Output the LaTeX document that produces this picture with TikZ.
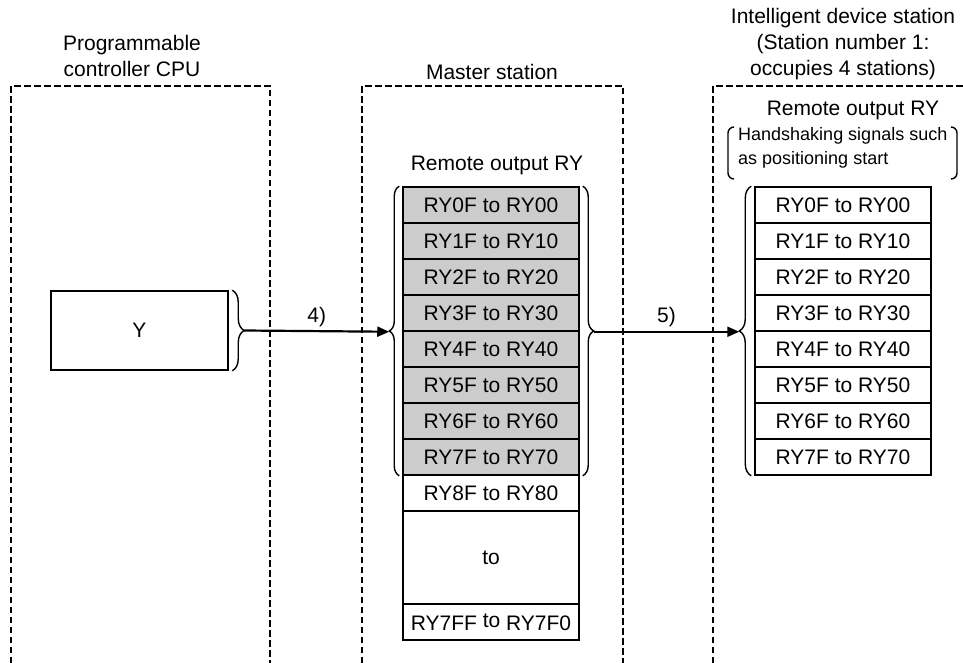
\documentclass[tikz,border=0pt]{standalone}
\usepackage{fontspec}
\setmainfont{Liberation Sans}
\usetikzlibrary{arrows.meta,decorations.pathreplacing,positioning}

\tikzset{
  station/.style={dash pattern=on 6.5pt off 3.5pt, line width=1.1pt},
  rybox/.style={draw, line width=1.5pt, minimum width=176pt, minimum height=36pt, inner sep=0pt},
  curly/.style={decorate, decoration={brace, amplitude=#1}, line width=1.4pt},
  flow/.style={line width=2.2pt, -{Triangle[length=12pt,width=10pt]}},
}

\begin{document}
\begin{tikzpicture}[x=1pt,y=-1pt,font=\fontsize{21}{26}\selectfont]
  \useasboundingbox (0,0) rectangle (963,663);
  \draw[station] (11,663) -- (11,86) -- (270,86) -- (270,663);
  \draw[station] (362,663) -- (362,86) -- (623,86) -- (623,663);
  \draw[station] (713,663) -- (713,86) -- (963,86);
  \node[align=center] (cpulabel) at (132,56) {Programmable\\controller CPU};
  \node (masterlabel) at (492,72) {Master station};
  \node[align=center] (idlabel) at (843,44) {Intelligent device station\\(Station number 1:\\occupies 4 stations)};
  \node (mrylabel) at (497,165) {Remote output RY};
  \node (rrylabel) at (853,110) {Remote output RY};
  \node[anchor=north west, align=left, inner sep=0pt, font=\fontsize{18}{24}\selectfont] (hsnote) at (738,127) {Handshaking signals such\\as positioning start};
  \draw[line width=1.4pt, rounded corners=6pt] (734,127) -- (728,127) -- (728,179) -- (734,179);
  \draw[line width=1.4pt, rounded corners=6pt] (951,127) -- (957,127) -- (957,179) -- (951,179);

  \node[draw, line width=1.5pt, minimum width=177pt, minimum height=79pt] (ybox) at (139.5,330.5) {Y};
  \foreach \i in {0,...,7} {
    \node[rybox, fill=gray!40] (m\i) at (491,{205+36*\i}) {RY\i F to RY\i 0};
    \node[rybox] (r\i) at (843,{205+36*\i}) {RY\i F to RY\i 0};
  }
  \node[rybox] (m8) at (491,493) {RY8F to RY80};
  \node[rybox, minimum height=93pt] (mto) at (491,557.5) {to};
  \node[rybox] (mlast) at (491,622) {RY7FF \raisebox{3pt}{to} RY7F0};

  \draw[curly=12pt] ([xshift=3.5pt]ybox.north east) -- ([xshift=3.5pt]ybox.south east);
  \draw[curly=10pt] ([xshift=-3pt]m7.south west) -- ([xshift=-3pt]m0.north west);
  \draw[curly=11pt] ([xshift=3pt]m0.north east) -- ([xshift=3pt]m7.south east);
  \draw[curly=12pt] ([xshift=-3pt]r7.south west) -- ([xshift=-3pt]r0.north west);

  \coordinate (yout) at ([xshift=15.5pt]ybox.east);
  \coordinate (min) at ([xshift=-13pt]m3.south west);
  \coordinate (mout) at ([xshift=14pt]m3.south east);
  \coordinate (rin) at ([xshift=-15pt]r3.south west);
  \draw[flow] (yout) -- node[above=0pt] {4)} (min);
  \draw[flow] (mout) -- node[above=0pt] {5)} (rin);
\end{tikzpicture}
\end{document}
